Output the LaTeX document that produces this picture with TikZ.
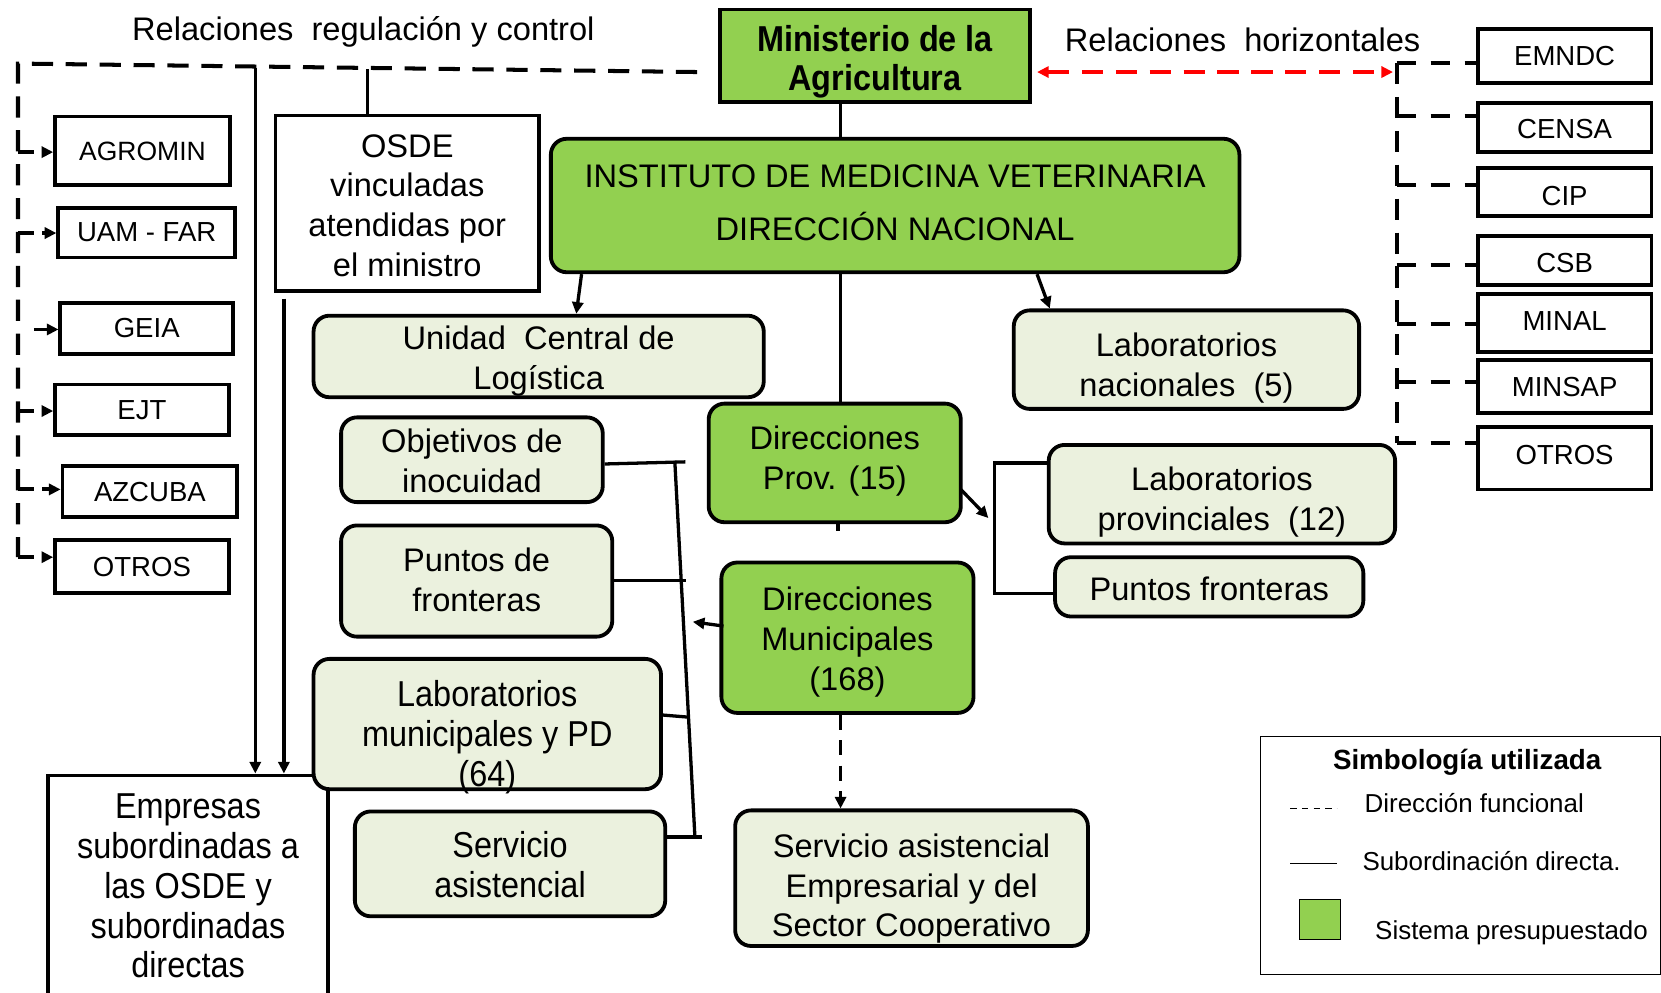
\documentclass[tikz,border=0pt]{standalone}
\usepackage{fontspec}
\setmainfont{Liberation Sans}
\newfontfamily\condfont{Liberation Sans}[FakeStretch=0.9]
\usetikzlibrary{arrows.meta}
\definecolor{gr}{HTML}{92D050}
\definecolor{lt}{HTML}{EBF1DE}
\begin{document}
\begin{tikzpicture}[x=1pt,y=-1pt,
  box/.style={draw, line width=3.6pt, inner sep=0pt},
  gbox/.style={box, fill=gr, rounded corners=15pt},
  lbox/.style={box, fill=lt, rounded corners=15pt},
  wbox/.style={box, fill=white},
  bt/.style={align=center, inner sep=0pt, font=\fontsize{30.8}{37.5}\selectfont},
  smallL/.style={wbox, font=\fontsize{26}{30}\selectfont},
  smallR/.style={wbox, font=\fontsize{26}{30}\selectfont},
  fc/.style={align=center, inner sep=0pt, font=\condfont\fontsize{34}{37.5}\selectfont},
  legt/.style={inner sep=0pt, anchor=west, font=\fontsize{24.5}{28}\selectfont},
  conn/.style={line width=3.1pt},
  dsh/.style={line width=3.8pt, dash pattern=on 20pt off 12pt},
  dshb/.style={line width=3.8pt, dash pattern=on 15pt off 8pt},
  dshr/.style={line width=3.8pt, dash pattern=on 18pt off 14pt},
  tip/.style={-{Triangle[length=11pt,width=10.5pt]}},
]
\useasboundingbox (0,0) rectangle (1568,937);

% titles
\node[bt] (t1) at (343,30) {Relaciones~ regulación y control};
\node[bt] (t2) at (1173,38) {Relaciones~ horizontales};

% main green boxes
\node[box, fill=gr, minimum width=292pt, minimum height=87pt] (min) at (826,52.5) {};
\node[align=center, inner sep=0pt, font=\condfont\bfseries\fontsize{34}{37}\selectfont] (minT) at (826,58.5) {Ministerio de la\\Agricultura};
\node[gbox, minimum width=650pt, minimum height=126pt] (inst) at (845,194) {};
\node[bt, font=\fontsize{30.8}{50}\selectfont] (instT) at (845,191) {INSTITUTO DE MEDICINA VETERINARIA\\DIRECCIÓN NACIONAL};
\node[gbox, minimum width=238pt, minimum height=112pt] (dp) at (788,437) {};
\node[bt] (dpT) at (788,435.5) {Direcciones\\Prov. (15)};
\node[gbox, minimum width=238pt, minimum height=142pt] (dm) at (800,602) {};
\node[bt] (dmT) at (800,606) {Direcciones\\Municipales\\(168)};

% OSDE and Empresas
\node[wbox, minimum width=249pt, minimum height=166pt] (osde) at (384.5,192) {};
\node[bt] (osdeT) at (384.5,194) {OSDE\\vinculadas\\atendidas por\\el ministro};
\node[wbox, minimum width=265pt, minimum height=216pt] (emp) at (177.5,840) {};
\node[fc] (empT) at (177.5,836.5) {Empresas\\subordinadas a\\las OSDE y\\subordinadas\\directas};

% left small boxes
\node[smallL, minimum width=165pt, minimum height=65pt, font=\fontsize{25}{30}\selectfont] (agromin) at (134.5,142.5) {AGROMIN};
\node[smallL, minimum width=167pt, minimum height=47pt] (uam) at (138.5,219.5) {UAM - FAR};
\node[smallL, minimum width=163pt, minimum height=48pt] (geia) at (138.5,310) {GEIA};
\node[smallL, minimum width=164pt, minimum height=48pt] (ejt) at (134,387) {EJT};
\node[smallL, minimum width=165pt, minimum height=48pt] (azcuba) at (141.5,464) {AZCUBA};
\node[smallL, minimum width=164pt, minimum height=50pt] (otrosL) at (134,535) {OTROS};

% right small boxes
\node[smallR, minimum width=164pt, minimum height=50.5pt] (emndc) at (1477,52.75) {EMNDC};
\node[smallR, minimum width=164pt, minimum height=46.5pt] (censa) at (1477,120.25) {};
\node[bt, font=\fontsize{26}{30}\selectfont] (censaT) at (1477,122.25) {CENSA};
\node[smallR, minimum width=164pt, minimum height=45.4pt] (cip) at (1477,181.3) {};
\node[bt, font=\fontsize{26}{30}\selectfont] (cipT) at (1477,185) {CIP};
\node[smallR, minimum width=164pt, minimum height=46pt] (csb) at (1477,246) {};
\node[bt, font=\fontsize{26}{30}\selectfont] (csbT) at (1477,248) {CSB};
\node[smallR, minimum width=164pt, minimum height=54.5pt] (minal) at (1477,304.75) {};
\node[bt, font=\fontsize{26}{30}\selectfont] (minalT) at (1477,302.75) {MINAL};
\node[smallR, minimum width=164pt, minimum height=50pt] (minsap) at (1477,365) {MINSAP};
\node[smallR, minimum width=164pt, minimum height=59pt] (otrosR) at (1477,432.5) {};
\node[bt, font=\fontsize{26}{30}\selectfont] (otrosRT) at (1477,429.5) {OTROS};

% light boxes
\node[lbox, minimum width=425pt, minimum height=77pt] (ucl) at (508.5,336.5) {};
\node[bt] (uclT) at (508.5,341) {Unidad~ Central de\\Logística};
\node[lbox, minimum width=326pt, minimum height=93pt] (labnac) at (1120,339.5) {};
\node[bt] (labnacT) at (1120,347.5) {Laboratorios\\nacionales~ (5)};
\node[lbox, minimum width=247pt, minimum height=80pt] (obj) at (445.5,434) {};
\node[bt] (objT) at (445.5,435) {Objetivos de\\inocuidad};
\node[lbox, minimum width=256pt, minimum height=105pt] (pdf) at (450,548.5) {};
\node[bt] (pdfT) at (450,547.5) {Puntos de\\fronteras};
\node[lbox, minimum width=328pt, minimum height=123pt] (labm) at (460,683.5) {};
\node[fc] (labmT) at (460,696) {Laboratorios\\municipales y PD\\(64)};
\node[lbox, minimum width=293pt, minimum height=99pt] (servl) at (481.5,815.5) {};
\node[fc] (servlT) at (481.5,816.5) {Servicio\\asistencial};
\node[lbox, minimum width=333pt, minimum height=128pt] (sae) at (860.5,829) {};
\node[bt] (saeT) at (860.5,839) {Servicio asistencial\\Empresarial y del\\Sector Cooperativo};
\node[lbox, minimum width=327pt, minimum height=93pt] (labprov) at (1153.5,466.5) {};
\node[bt] (labprovT) at (1153.5,474) {Laboratorios\\provinciales~ (12)};
\node[lbox, minimum width=291pt, minimum height=56pt] (pfr) at (1141.5,554) {};
\node[bt] (pfrT) at (1141.5,556) {Puntos fronteras};

% coordinates
\coordinate (axis) at (793.5,0);
\coordinate (c549) at (549,0);
\coordinate (c544) at (544,0);
\coordinate (c979) at (979,0);
\coordinate (c991) at (991,0);
\coordinate (c791) at (791,0);
\coordinate (dpa) at (907,462);
\coordinate (dpb) at (933,489);
\coordinate (rbt) at (939,437);
\coordinate (rbb) at (939,560);
\coordinate (dma) at (683,591);
\coordinate (dmb) at (654,587);
\coordinate (lbt) at (637,435);
\coordinate (lbb) at (656,790);
\coordinate (h1) at (647,436);
\coordinate (h2) at (648,548);
\coordinate (h3) at (650,677);
\coordinate (h4) at (663,790);
\coordinate (ra) at (979,68);
\coordinate (rb) at (1315,68);
\coordinate (tr) at (658,68);
\coordinate (tl) at (17,60);
\coordinate (bl) at (17,526);
\coordinate (v1) at (241,64);
\coordinate (v2) at (268,282);
\coordinate (oc) at (347,65);

% vertical axis connectors
\draw[conn] (min.south -| axis) -- (inst.north -| axis);
\draw[conn] (inst.south -| axis) -- (dp.north -| axis);
\draw[conn] (dp.south -| c791) -- ++(0,6);
\draw[line width=3pt, dash pattern=on 14pt off 10pt, tip] (dm.south -| axis) -- (sae.north -| axis);

% instituto arrows
\draw[conn, tip] (inst.south -| c549) -- (ucl.north -| c544);
\draw[conn, tip] (inst.south -| c979) -- (labnac.north -| c991);

% right bracket
\draw[conn, tip] (dpa) -- (dpb);
\draw[conn] (labprov.west |- rbt) -- (rbt) -- (rbb) -- (pfr.west |- rbb);

% left bracket
\draw[conn, tip] (dma) -- (dmb);
\draw[conn] (lbt) -- (lbb);
\draw[conn] (obj.east |- 0,438) -- (h1);
\draw[conn] (pdf.east |- h2) -- (h2);
\draw[conn] (labm.east |- 0,675) -- (h3);
\draw[conn] (servl.east |- h4) -- (h4);

% red horizontal relation
\draw[line width=3.8pt, red, dash pattern=on 20pt off 12pt, {Triangle[length=11pt,width=10.5pt]}-{Triangle[length=11pt,width=10.5pt]}] (ra) -- (rb);

% left dashed frame
\draw[dsh] (tr) -- (tl) -- (bl);
\foreach \y/\b in {143.6/agromin, 220/uam, 388/ejt, 462/azcuba, 526/otrosL}{
  \coordinate (p) at (17,\y);
  \draw[dshb, tip] (p) -- (p -| \b.west);
}
\coordinate (pg) at (17,311);
\coordinate (pg2) at (32,311);
\draw[conn, tip] (pg2) -- (pg -| geia.west);

% vertical solid lines to Empresas
\draw[conn, tip] (v1) -- (emp.north -| v1);
\draw[conn, tip] (v2) -- (emp.north -| v2);
\draw[conn] (osde.north -| oc) -- (oc);

% right dashed frame
\draw[dsh] (1318.5,59.5) -- (1318.5,418);
\foreach \y/\b in {59.5/emndc, 109.5/censa, 174.6/cip, 250/csb, 306/minal, 360.6/minsap, 418/otrosR}{
  \coordinate (q) at (1318.5,\y);
  \draw[dshr] (q) -- (q -| \b.west);
}

% legend
\node[draw, line width=1.2pt, minimum width=378pt, minimum height=225pt, inner sep=0pt] (leg) at (1379,807.5) {};
\node[inner sep=0pt, font=\bfseries\fontsize{26.2}{30}\selectfont] (legt0) at (1385,720) {Simbología utilizada};
\draw[line width=1pt, dash pattern=on 6pt off 5pt] (1218,763) -- (1262,763);
\node[legt] (leg1) at (1288,758) {Dirección funcional};
\draw[line width=1.3pt] (1218,815) -- (1262,815);
\node[legt] (leg2) at (1286,813) {Subordinación directa.};
\node[draw, fill=gr, line width=1pt, minimum size=38pt, inner sep=0pt] (legsq) at (1246,868) {};
\node[legt] (leg3) at (1298,881) {Sistema presupuestado};
\end{tikzpicture}
\end{document}
